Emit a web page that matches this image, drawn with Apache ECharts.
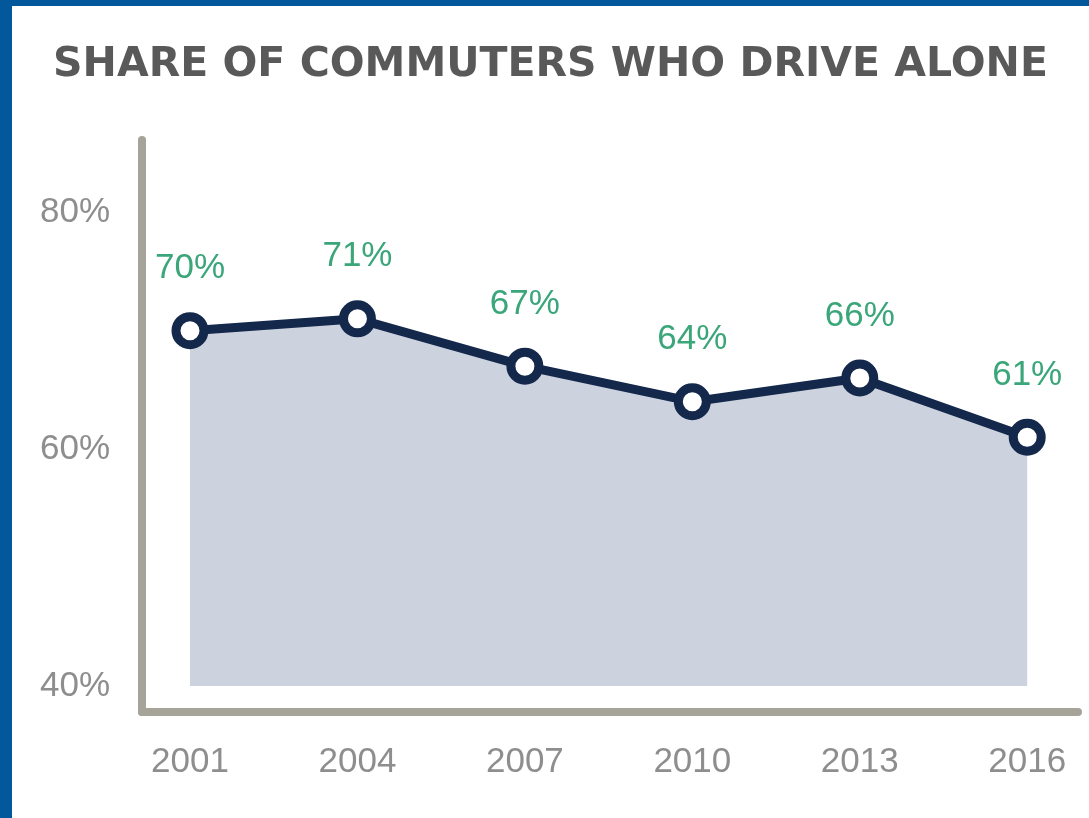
<!DOCTYPE html>
<html>
<head>
<meta charset="utf-8">
<script src="https://cdn.jsdelivr.net/npm/echarts@6/dist/echarts.min.js"></script>
<style>
  html, body { margin: 0; padding: 0; background: #ffffff; }
  #frame {
    position: absolute; left: 0; top: 0;
    width: 1089px; height: 818px;
    box-sizing: border-box;
    border-left: 12px solid #03579b;
    border-top: 6px solid #03579b;
    background: #ffffff;
  }
  #chart { width: 1077px; height: 812px; }
</style>
</head>
<body>
<div id="frame"><div id="chart"></div></div>
<script>
// 通勤独自驾车比例
const years = [2001, 2004, 2007, 2010, 2013, 2016];
const shares = [70, 71, 67, 64, 66, 61];
const yTicks = [40, 60, 80];

const numFont = '"Liberation Sans", Arial, sans-serif';

let myChart = echarts.init(document.getElementById('chart'));
let option = {
  backgroundColor: '#ffffff',
  title: {
    text: 'SHARE OF COMMUTERS WHO DRIVE ALONE',
    left: 'center',
    top: 34,
    textStyle: {
      fontFamily: '"DejaVu Sans", sans-serif',
      fontWeight: 'bold',
      fontSize: 41,
      color: '#595959'
    }
  },
  grid: {
    left: 130,
    right: 11,
    top: 134,
    bottom: 106
  },
  xAxis: {
    type: 'value',
    min: 2000.14,
    max: 2016.91,
    axisLine: { show: true, lineStyle: { color: '#a6a399', width: 8, cap: 'round' } },
    axisTick: { show: false },
    splitLine: { show: false },
    axisLabel: {
      customValues: years,
      formatter: v => String(v),
      margin: 33,
      color: '#8e8e8e',
      fontFamily: numFont,
      fontSize: 35
    }
  },
  yAxis: {
    type: 'value',
    min: 37.8,
    max: 86.1,
    axisLine: { show: true, lineStyle: { color: '#a6a399', width: 8, cap: 'round' } },
    axisTick: { show: false },
    splitLine: { show: false },
    axisLabel: {
      customValues: yTicks,
      formatter: v => v + '%',
      margin: 32,
      color: '#8e8e8e',
      fontFamily: numFont,
      fontSize: 35
    }
  },
  series: [
    {
      name: 'Drive alone',
      type: 'line',
      data: years.map((y, i) => [y, shares[i]]),
      symbol: 'circle',
      symbolSize: 28,
      lineStyle: { color: '#13284a', width: 9 },
      itemStyle: { color: '#ffffff', borderColor: '#13284a', borderWidth: 9 },
      areaStyle: { color: '#cdd2df', opacity: 1, origin: 40 },
      label: {
        show: true,
        position: 'top',
        distance: 26,
        formatter: p => p.value[1] + '%',
        color: '#3aa679',
        fontFamily: numFont,
        fontSize: 35
      },
      z: 3
    }
  ]
};
myChart.setOption(option);
</script>
</body>
</html>
